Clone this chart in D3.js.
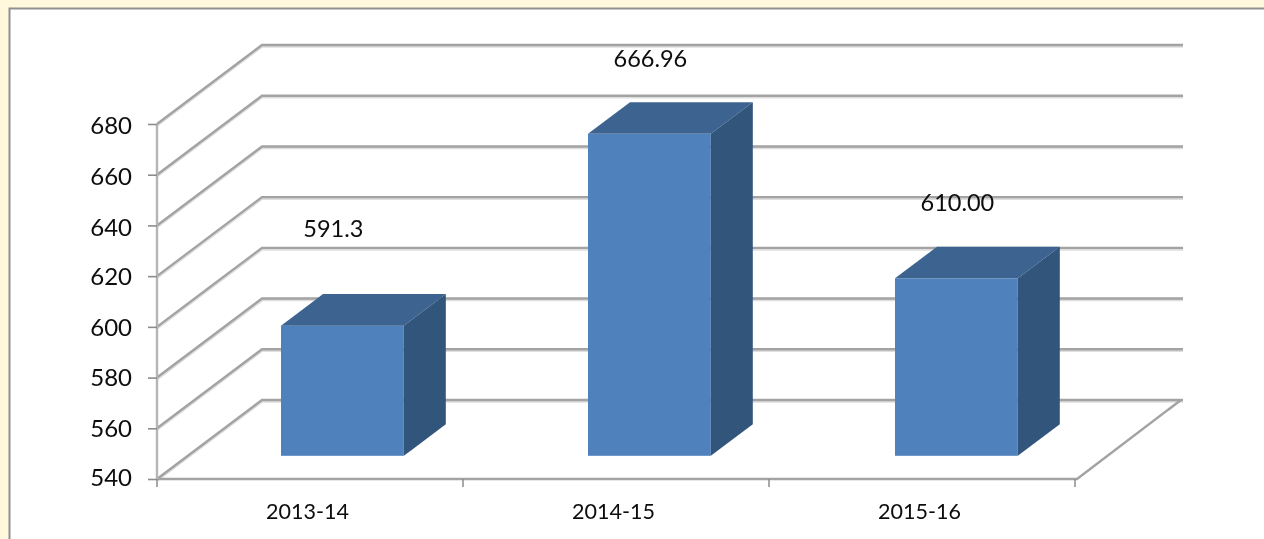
<!DOCTYPE html>
<html><head><meta charset="utf-8">
<script src="https://cdn.jsdelivr.net/npm/d3@7"></script>
<style>
html,body{margin:0;padding:0;background:#fff8dc;overflow:hidden}
svg{display:block}
text{font-family:Lato,"Open Sans",sans-serif;fill:#0a0a0a}
</style></head><body>
<svg id="c" width="1264" height="539"></svg>
<script>
const categories = ["2013-14","2014-15","2015-16"];
const values = [591.3,666.96,610.00];
const valueLabels = ["591.3","666.96","610.00"];
const yTicks = [540,560,580,600,620,640,660,680];

const svg = d3.select("#c");
const W=1264,H=539;
const leftX=157,rightX=1075,floorRight=1077,y0=479,y1=124;
const depthX=105,depthY=-79;
const barFrontDepth=0.30,barBackDepth=0.70;
const y=d3.scaleLinear().domain([540,680]).range([y0,y1]);
const x=d3.scaleBand().domain(categories).range([leftX+0.4,leftX+921.4]).paddingInner(0.6).paddingOuter(0.3);
const xOuter=d3.scaleBand().domain(categories).range([leftX,rightX]);
const defs=svg.append("defs");
defs.append("filter").attr("id","soft").attr("x","-5%").attr("y","-5%").attr("width","110%").attr("height","110%")
  .append("feGaussianBlur").attr("stdDeviation",0.6);

// page panel
svg.append("rect").attr("width",W).attr("height",H).attr("fill","#fff8dc");
svg.append("rect").attr("x",9.5).attr("y",8.5).attr("width",W+20).attr("height",H+20)
  .attr("fill","#fff").attr("stroke","#8f8f8f").attr("stroke-width",2);

const g=svg.append("g").attr("filter","url(#soft)");
const grid="#a3a3a3";

// walls: gridlines on the back wall and the side wall, each with a pale shadow
yTicks.forEach(t=>{
  const p=d3.path();
  p.moveTo(leftX,y(t));
  p.lineTo(leftX+depthX,y(t)+depthY);
  p.lineTo(floorRight+depthX+1,y(t)+depthY);
  g.append("path").attr("d",p).attr("fill","none").attr("stroke","#dedede").attr("stroke-width",2.4)
    .attr("transform","translate(0,1.6)");
  g.append("path").attr("d",p).attr("fill","none").attr("stroke",grid).attr("stroke-width",2.4);
});
// floor front and right edges
const floor=d3.path();
floor.moveTo(leftX,y0);floor.lineTo(floorRight,y0);floor.lineTo(floorRight+depthX-1,y0+depthY);
g.append("path").attr("d",floor).attr("fill","none").attr("stroke",grid).attr("stroke-width",2.4);
// side wall vertical
g.append("line").attr("x1",leftX).attr("x2",leftX).attr("y1",y1).attr("y2",y0)
  .attr("stroke","#b5b5b5").attr("stroke-width",2.4);

// axes
const yAxis=d3.axisLeft(y).tickValues(yTicks).tickSize(9).tickPadding(16).tickFormat(d3.format("d"));
const ya=g.append("g").attr("transform",`translate(${leftX},0)`).call(yAxis);
ya.select(".domain").remove();
ya.selectAll("line").attr("stroke","#8c8c8c").attr("stroke-width",1.6);
ya.selectAll("text").attr("font-size",24).attr("fill","#0a0a0a").attr("dy","0.32em")
  .attr("y",d=>d===540?-1:(d>=640?2:0.5));

const xa=g.append("g").attr("transform",`translate(0,${y0})`).call(
  d3.axisBottom(xOuter).tickSize(0).tickPadding(25));
xa.select(".domain").remove();
xa.selectAll("text").attr("font-size",21.5).attr("fill","#0a0a0a").attr("dx",-2.5);
const edges=categories.map(c=>xOuter(c)).concat([rightX]);
g.append("g").selectAll("line").data(edges).join("line")
  .attr("x1",d=>d).attr("x2",d=>d).attr("y1",y0).attr("y2",y0+8)
  .attr("stroke","#8c8c8c").attr("stroke-width",1.5);

// bars
const bw=x.bandwidth();
const fx=barFrontDepth*depthX,fy=barFrontDepth*depthY;
const bx=(barBackDepth-barFrontDepth)*depthX,by=(barBackDepth-barFrontDepth)*depthY;
const bars=g.selectAll("g.bar").data(categories.map((c,i)=>({c,v:values[i],l:valueLabels[i]})))
  .join("g").attr("class","bar");
const xStart=d=>x(d.c)+fx, baseY=y0+fy+0.5, topY=d=>y(d.v)+fy+0.5;
bars.append("rect").attr("x",xStart).attr("y",topY)
  .attr("width",bw).attr("height",d=>baseY-topY(d)).attr("fill","#4f81bd");
bars.append("path").attr("fill","#3c6491").attr("d",d=>{
  const a=xStart(d),t=topY(d);
  return `M${a},${t}L${a+bw},${t}L${a+bw+bx},${t+by}L${a+bx},${t+by}Z`;});
bars.append("path").attr("fill","#32547b").attr("d",d=>{
  const a=xStart(d)+bw,t=topY(d);
  return `M${a},${t}L${a+bx},${t+by}L${a+bx},${baseY+by}L${a},${baseY}Z`;});

// value labels sit above the bars
const labelGap=[89,67,67];
const labelShift=[-9,1,1];
g.selectAll("text.val").data(bars.data()).join("text").attr("class","val")
  .attr("x",(d,i)=>xStart(d)+bw/2+labelShift[i]).attr("text-anchor","middle")
  .attr("y",(d,i)=>topY(d)-labelGap[i]).attr("font-size",23.5).text(d=>d.l);
</script>
</body></html>
